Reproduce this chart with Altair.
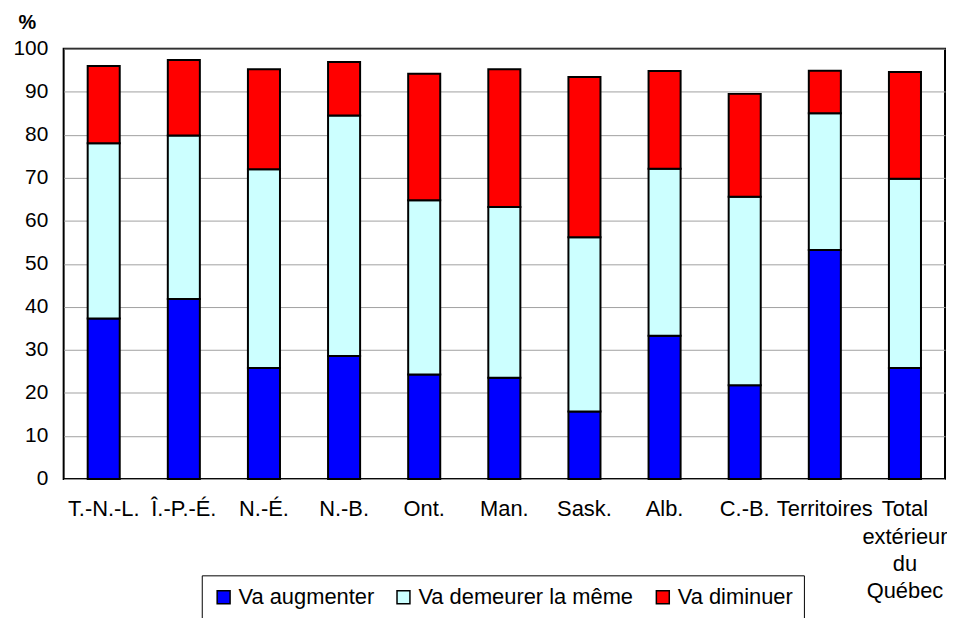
import altair as alt
import pandas as pd

categories = ["T.-N.-L.", "Î.-P.-É.", "N.-É.", "N.-B.", "Ont.", "Man.", "Sask.",
              "Alb.", "C.-B.", "Territoires", "Total extérieur du Québec"]
series = ["Va augmenter", "Va demeurer la même", "Va diminuer"]
augmenter = [37.3, 41.8, 25.8, 28.6, 24.3, 23.5, 15.7, 33.3, 21.8, 53.2, 25.8]
demeurer = [40.7, 38.0, 46.2, 55.9, 40.5, 39.7, 40.5, 38.8, 43.8, 31.8, 44.0]
diminuer = [18.0, 17.6, 23.2, 12.4, 29.4, 32.0, 37.2, 22.7, 23.9, 9.9, 24.8]
colors = ["#0000FF", "#CCFFFF", "#FF0000"]
y_ticks = list(range(0, 101, 10))

rows = []
for i, c in enumerate(categories):
    for k, (s, vals) in enumerate(zip(series, [augmenter, demeurer, diminuer])):
        rows.append({"cat": c, "serie": s, "val": vals[i], "ordre": k})
df = pd.DataFrame(rows)

chart = alt.Chart(df).mark_bar(stroke="black", strokeWidth=2).encode(
    x=alt.X("cat:N", sort=categories,
            scale=alt.Scale(paddingInner=0.6, paddingOuter=0.3),
            axis=alt.Axis(title=None, labelAngle=0, ticks=False, domain=False,
                          labelExpr="split(datum.label, ' ')",
                          labelFontSize=22, labelPadding=20, labelLineHeight=27.5,
                          labelOverlap=False, labelColor="black", labelBound=False,
                          labelFont="Liberation Sans")),
    y=alt.Y("val:Q", stack="zero",
            scale=alt.Scale(domain=[0, 100], nice=False),
            axis=alt.Axis(values=y_ticks, title="%", titleAngle=0, titleAlign="left",
                          titleBaseline="alphabetic", titleX=-46, titleY=-20.5,
                          titleFontSize=20, titleFontWeight="bold", titleColor="black",
                          titleFont="Liberation Sans",
                          ticks=False, domain=False, labelFontSize=21, labelPadding=16,
                          labelColor="black", labelFont="Liberation Sans",
                          grid=True, gridColor="#A0A0A0", gridWidth=1)),
    color=alt.Color("serie:N", sort=series,
                    scale=alt.Scale(domain=series, range=colors),
                    legend=alt.Legend(title=None, orient="none", legendX=139, legendY=530,
                                      direction="horizontal", strokeColor="black",
                                      padding=11, symbolType="square", symbolSize=169,
                                      symbolStrokeColor="black", symbolStrokeWidth=1.5,
                                      symbolOpacity=1, labelLimit=400,
                                      labelFontSize=22, labelFont="Liberation Sans",
                                      labelColor="black", columnPadding=18,
                                      labelOffset=4)),
    order=alt.Order("ordre:Q", sort="ascending"),
).properties(
    width=887, height=433,
    padding={"left": 4, "top": 2, "right": 0, "bottom": 0},
).configure_view(
    stroke="black", strokeWidth=2
)

chart.save("out.html", embed_options={"renderer": "svg", "actions": False})
